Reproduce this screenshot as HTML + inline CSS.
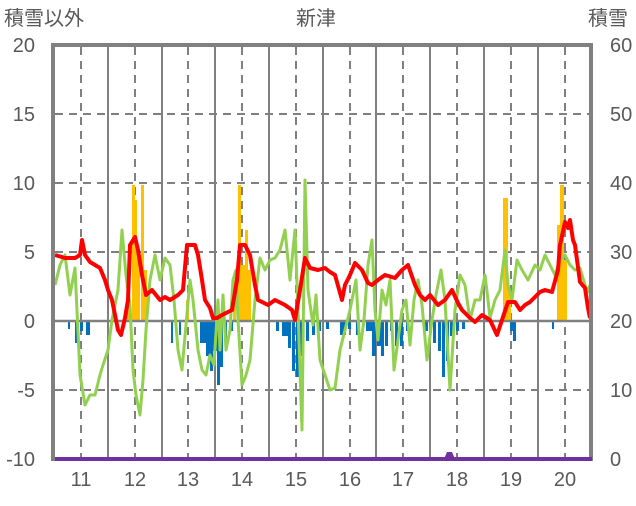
<!DOCTYPE html>
<html><head><meta charset="utf-8"><style>
body{margin:0;background:#fff}
text{font-family:"Liberation Sans","Noto Sans CJK JP",sans-serif;fill:#595959}
</style></head><body>
<svg width="636" height="501" xmlns="http://www.w3.org/2000/svg">
<rect width="636" height="501" fill="#fff"/>
<g font-size="20">
<text x="4" y="25">積雪以外</text>
<text x="296" y="25">新津</text>
<text x="588" y="25">積雪</text>
</g>
<g stroke="#808080" stroke-width="2" stroke-dasharray="8,6">
<line x1="55" y1="114" x2="591" y2="114"/>
<line x1="55" y1="183" x2="591" y2="183"/>
<line x1="55" y1="252" x2="591" y2="252"/>
<line x1="55" y1="390" x2="591" y2="390"/>
</g>
<g stroke="#808080" stroke-width="2" stroke-dasharray="8,6">
<line x1="81" y1="47" x2="81" y2="459"/><line x1="135" y1="47" x2="135" y2="459"/><line x1="188" y1="47" x2="188" y2="459"/><line x1="242" y1="47" x2="242" y2="459"/><line x1="296" y1="47" x2="296" y2="459"/><line x1="350" y1="47" x2="350" y2="459"/><line x1="403" y1="47" x2="403" y2="459"/><line x1="457" y1="47" x2="457" y2="459"/><line x1="511" y1="47" x2="511" y2="459"/><line x1="565" y1="47" x2="565" y2="459"/>
</g>
<g stroke="#808080" stroke-width="2">
<line x1="108" y1="47" x2="108" y2="459"/><line x1="162" y1="47" x2="162" y2="459"/><line x1="215" y1="47" x2="215" y2="459"/><line x1="269" y1="47" x2="269" y2="459"/><line x1="323" y1="47" x2="323" y2="459"/><line x1="376" y1="47" x2="376" y2="459"/><line x1="430" y1="47" x2="430" y2="459"/><line x1="484" y1="47" x2="484" y2="459"/><line x1="538" y1="47" x2="538" y2="459"/>
</g>
<g fill="#FFC000">
<rect x="127" y="290" width="3" height="31"/><rect x="132" y="185" width="3" height="136"/><rect x="135" y="200" width="2" height="121"/><rect x="137" y="250" width="3" height="71"/><rect x="141" y="185" width="3" height="136"/><rect x="144" y="270" width="3" height="51"/>
<rect x="186" y="300" width="3" height="21"/>
<rect x="233" y="280" width="3" height="41"/><rect x="238" y="185" width="3" height="136"/><rect x="241" y="265" width="4" height="56"/><rect x="245" y="230" width="3" height="91"/><rect x="248" y="270" width="3" height="51"/>
<rect x="296" y="300" width="3" height="21"/>
<rect x="503" y="198" width="5" height="123"/><rect x="508" y="290" width="3" height="31"/>
<rect x="557" y="225" width="3" height="96"/><rect x="560" y="185" width="4" height="136"/><rect x="564" y="260" width="3" height="61"/>
</g>
<g fill="#0070C0">
<rect x="68" y="321" width="2" height="8"/><rect x="75" y="321" width="3" height="22"/><rect x="80" y="321" width="3" height="10"/><rect x="86" y="321" width="4" height="14"/>
<rect x="171" y="321" width="2" height="22"/><rect x="179" y="321" width="2" height="14"/>
<rect x="200" y="321" width="6" height="22"/><rect x="206" y="321" width="4" height="35"/><rect x="210" y="321" width="3" height="50"/><rect x="213" y="321" width="4" height="30"/><rect x="217" y="321" width="3" height="64"/><rect x="220" y="321" width="3" height="46"/><rect x="224" y="321" width="3" height="20"/><rect x="230" y="321" width="3" height="10"/>
<rect x="276" y="321" width="3" height="10"/><rect x="282" y="321" width="6" height="15"/><rect x="288" y="321" width="3" height="27"/><rect x="292" y="321" width="3" height="50"/><rect x="296" y="321" width="3" height="56"/><rect x="300" y="321" width="4" height="35"/><rect x="306" y="321" width="3" height="20"/><rect x="312" y="321" width="3" height="14"/><rect x="318" y="321" width="3" height="10"/><rect x="326" y="321" width="3" height="8"/>
<rect x="340" y="321" width="6" height="14"/><rect x="348" y="321" width="3" height="8"/><rect x="356" y="321" width="3" height="14"/><rect x="366" y="321" width="6" height="10"/><rect x="372" y="321" width="4" height="35"/><rect x="377" y="321" width="4" height="25"/><rect x="381" y="321" width="3" height="35"/><rect x="385" y="321" width="3" height="25"/><rect x="390" y="321" width="3" height="10"/><rect x="395" y="321" width="3" height="25"/><rect x="400" y="321" width="3" height="25"/><rect x="406" y="321" width="3" height="10"/>
<rect x="425" y="321" width="3" height="10"/><rect x="433" y="321" width="3" height="22"/><rect x="438" y="321" width="3" height="30"/><rect x="442" y="321" width="3" height="56"/><rect x="446" y="321" width="3" height="40"/><rect x="450" y="321" width="3" height="15"/><rect x="456" y="321" width="3" height="10"/><rect x="462" y="321" width="3" height="8"/>
<rect x="510" y="321" width="3" height="10"/><rect x="513" y="321" width="3" height="20"/><rect x="552" y="321" width="2" height="8"/>
</g>
<line x1="55" y1="321" x2="591" y2="321" stroke="#808080" stroke-width="2.5"/>
<polyline fill="none" stroke="#92D050" stroke-width="3" stroke-linejoin="round" points="55,285 60,265 65,255 70,295 75,268 80,375 85,405 90,395 95,395 100,375 103,365 108,350 112,320 115,305 118,290 122,230 126,275 130,305 133,370 136,395 140,415 143,380 146,330 150,280 155,255 160,280 165,258 170,265 174,300 178,350 182,370 186,325 190,280 193,300 198,350 202,370 206,375 210,355 214,365 218,300 220,350 223,295 226,350 230,330 233,280 236,270 238,320 242,385 246,375 250,360 255,300 260,258 265,270 270,260 275,258 280,250 285,230 290,280 295,230 298,310 302,430 305,180 308,290 313,325 316,295 320,360 325,375 330,390 335,388 340,350 345,330 350,310 356,280 360,350 364,320 368,265 372,240 375,310 378,340 382,290 386,305 390,280 394,370 398,340 402,310 406,300 410,345 414,300 418,280 422,305 427,360 432,320 436,295 441,270 445,300 450,390 455,310 460,275 465,285 470,320 475,300 480,300 485,275 488,300 490,318 495,300 500,290 505,250 508,285 512,300 517,260 522,270 528,280 535,265 540,270 545,255 550,265 555,275 560,260 565,255 570,265 575,270 580,268 585,285 588,292 590,285"/>
<polyline fill="none" stroke="#FF0000" stroke-width="4" stroke-linejoin="round" points="55,255 65,258 75,258 80,255 82,240 85,255 90,262 100,268 105,280 108,290 112,300 118,330 121,335 125,318 128,300 130,245 135,237 138,250 142,275 146,295 152,290 160,300 165,297 170,300 178,295 183,290 187,245 195,245 198,255 202,280 205,300 210,308 213,318 217,318 222,315 226,313 232,310 237,280 240,245 245,245 250,255 255,285 258,300 262,302 268,305 275,300 285,305 292,310 295,320 300,290 305,258 310,268 318,270 325,268 330,272 335,275 342,300 345,285 350,275 355,263 362,270 368,283 372,285 378,280 385,275 395,278 402,270 408,265 415,285 420,295 425,300 430,295 438,305 445,300 452,290 458,303 462,310 470,318 475,322 482,315 490,320 497,335 502,320 508,302 515,302 520,310 525,305 530,302 540,292 545,290 552,292 558,270 560,245 565,222 568,228 570,220 573,240 575,245 580,282 585,288 588,308 590,318"/>
<rect x="53" y="45" width="538" height="414" fill="none" stroke="#808080" stroke-width="4"/>
<line x1="55" y1="459" x2="592" y2="459" stroke="#7030A0" stroke-width="4"/>
<path d="M444,459 L447,452 L452,452 L455,459 Z" fill="#7030A0"/>
<g font-size="20" text-anchor="end">
<text x="35" y="52">20</text><text x="35" y="121">15</text><text x="35" y="190">10</text><text x="35" y="259">5</text><text x="35" y="328">0</text><text x="35" y="397">-5</text><text x="35" y="466">-10</text>
</g>
<g font-size="20">
<text x="610" y="52">60</text><text x="610" y="121">50</text><text x="610" y="190">40</text><text x="610" y="259">30</text><text x="610" y="328">20</text><text x="610" y="397">10</text><text x="610" y="466">0</text>
</g>
<g font-size="20" text-anchor="middle">
<text x="81" y="486">11</text><text x="135" y="486">12</text><text x="188" y="486">13</text><text x="242" y="486">14</text><text x="296" y="486">15</text><text x="350" y="486">16</text><text x="403" y="486">17</text><text x="457" y="486">18</text><text x="511" y="486">19</text><text x="565" y="486">20</text>
</g>
</svg>
</body></html>
